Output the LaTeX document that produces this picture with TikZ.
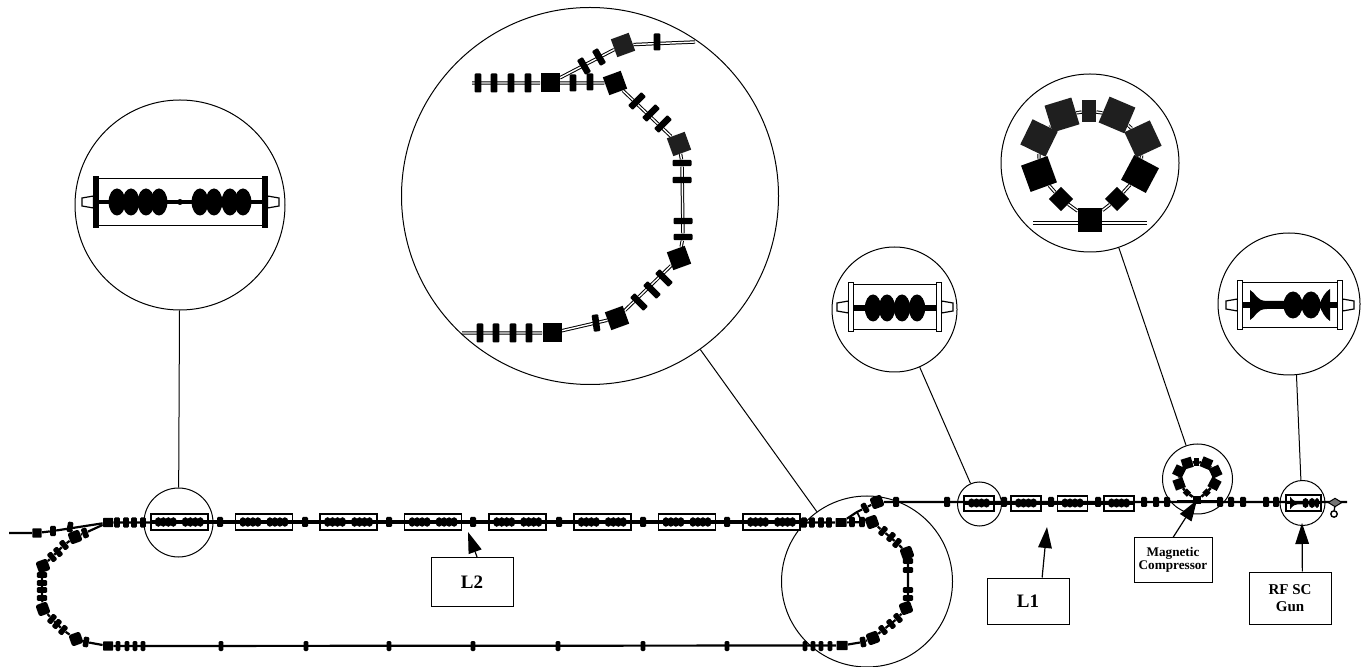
\documentclass[tikz,border=0pt]{standalone}
\usepackage{fontspec}
\setmainfont{Liberation Serif}
\usetikzlibrary{arrows.meta,shapes.geometric,backgrounds}
\tikzset{
  lens/.style={draw,circle,inner sep=0pt,line width=.5pt},
  lead/.style={line width=.5pt},
  beam/.style={line width=1.1pt},
  beamd/.style={draw,line width=.5pt,double=white,double distance=.7pt},
  magq/.style={fill=black,rectangle,rounded corners=.6pt,inner sep=0pt,minimum width=2.8pt,minimum height=5.2pt},
  magb/.style={fill=black,rectangle,rounded corners=1.2pt,inner sep=0pt,minimum size=6pt},
  zoomq/.style={fill=black,rectangle,rounded corners=.5pt,inner sep=0pt,minimum width=3.3pt,minimum height=9.5pt},
  zooms/.style={fill=black,rectangle,inner sep=0pt,minimum size=9.5pt},
  zoomd/.style={zooms,fill=black!88},
  modbox/.style={draw,rectangle,inner sep=0pt,line width=.8pt},
  labelbox/.style={draw,rectangle,inner sep=0pt,line width=.5pt,align=center,font=\bfseries},
  bigarrow/.style={line width=.6pt,-{Triangle[length=10.5pt,width=6.8pt]}},
}
% cryostat of an enlarged view: left, right, mid, half height, flange colour
\newcommand{\cryobox}[5]{%
  \draw[line width=.6pt] (#1,{#3-#4}) -- (#2,{#3-#4}) (#1,{#3+#4}) -- (#2,{#3+#4});
  \draw[fill=white,line width=.6pt] ({#1-2.5},{#3-6}) -- ({#1-14},{#3-4}) -- ({#1-14},{#3+4}) -- ({#1-2.5},{#3+6}) -- cycle;
  \draw[fill=white,line width=.6pt] ({#2+2.5},{#3-6}) -- ({#2+14},{#3-4}) -- ({#2+14},{#3+4}) -- ({#2+2.5},{#3+6}) -- cycle;
  \draw[fill=#5,line width=.6pt] ({#1-2.5},{#3-#4-2}) rectangle ({#1+2.5},{#3+#4+2});
  \draw[fill=#5,line width=.6pt] ({#2-2.5},{#3-#4-2}) rectangle ({#2+2.5},{#3+#4+2});
}
% cavities of a small module: centre x, y, half height of cells
\newcommand{\cellgroup}[3]{%
  \foreach \k in {-1.5,-.5,.5,1.5}
    \fill ({#1+\k*5},#2) ellipse [x radius=3.6,y radius=#3];
}
% the ring of dipoles, drawn large and small
\newcommand{\compring}[7]{%
  \begin{scope}[shift={(#2,#3)},scale=#4,transform shape]
    \node[fill=black,inner sep=0pt,minimum size=12pt] (#1b) at (0,0) {};
    \node[fill=black,inner sep=0pt,minimum size=8.5pt,rotate=45] (#1c) at (-29,-21) {};
    \node[fill=black,inner sep=0pt,minimum size=8.5pt,rotate=45] (#1d) at (27,-21) {};
    \node[fill=black,inner sep=0pt,minimum size=#7,rotate=20] (#1e) at (-51,-46) {};
    \node[fill=black,inner sep=0pt,minimum size=#7,rotate=-28] (#1f) at (50,-46) {};
    \node[fill=#6,inner sep=0pt,minimum size=#7,rotate=-26] (#1g) at (-51,-82) {};
    \node[fill=#6,inner sep=0pt,minimum size=#7,rotate=25] (#1h) at (53,-81) {};
    \node[fill=#6,inner sep=0pt,minimum size=#7,rotate=17] (#1i) at (-28,-105) {};
    \node[fill=#6,inner sep=0pt,minimum size=#7,rotate=-23] (#1j) at (27,-105) {};
    \node[fill=#6,inner sep=0pt,minimum width=7pt,minimum height=11pt] (#1k) at (-1,-109) {};
    \coordinate (#1l) at (-57,3);
    \coordinate (#1r) at (57,3);
    \begin{scope}[on background layer]
      \draw[#5] (#1b) -- (#1c) -- (#1e) -- (#1g) -- (#1i) -- (#1k) -- (#1j) -- (#1h) -- (#1f) -- (#1d) -- (#1b);
      \draw[#5] (#1l) -- (#1r);
    \end{scope}
  \end{scope}
}
\begin{document}
\begin{tikzpicture}[x=.5pt,y=-.5pt]
  \useasboundingbox (0,0) rectangle (1370,667);
  % enlarged views and the circles on the line
  \node[lens,minimum size=105pt] (zooma) at (180,205) {};
  \node[lens,minimum size=188.5pt] (zoomf) at (590,196) {};
  \node[lens,minimum size=62.5pt] (zoomb) at (894.5,309.5) {};
  \node[lens,minimum size=89pt] (zoomc) at (1090,163) {};
  \node[lens,minimum size=71pt] (zoomg) at (1289,304) {};
  \node[lens,minimum size=34.5pt] (lensa) at (178.5,522.5) {};
  \node[lens,minimum size=85.5pt] (lensf) at (867,581.5) {};
  \node[lens,minimum size=22pt] (lensb) at (979.5,504) {};
  \node[lens,minimum size=35pt] (lensc) at (1197.5,479) {};
  \node[lens,minimum size=22.5pt] (lensg) at (1302.5,503) {};
  \draw[lead] (zooma) -- (lensa);
  \draw[lead] (zoomf) -- (lensf);
  \draw[lead] (zoomb) -- (lensb);
  \draw[lead] (zoomc) -- (lensc);
  \draw[lead] (zoomg.-84) -- (lensg.94);

  % line, upper straight
  \node[magb,minimum size=4.6pt,rounded corners=.3pt] (s0) at (37,533) {};
  \node[magq] (ql0) at (53,531) {};
  \node[magb,minimum width=5pt,minimum height=4.6pt,rounded corners=.3pt] (j1) at (108,522.5) {};
  \node[magb,minimum width=5.5pt,minimum height=4.4pt,rounded corners=.3pt] (j2) at (841,522.5) {};
  \coordinate (start) at (9,533);
  \foreach \x in {117,126,134,143,804,812,821,829}
    \node[magq] at (\x,522.5) {};
  \foreach \i in {0,...,7} {
    \node[modbox,minimum width=28.5pt,minimum height=8pt] (m\i) at ({179.3+84.6*\i},522) {};
    \cellgroup{179.3+84.6*\i-13.5}{522}{4.8}
    \cellgroup{179.3+84.6*\i+13.5}{522}{4.8}
  }
  \foreach \x in {220,305,389,473,559,643,727}
    \node[magq,minimum width=3pt,minimum height=5pt] at (\x,522) {};
  % line, lower straight
  \node[magb,minimum width=5pt,minimum height=4.6pt,rounded corners=.3pt] (j3) at (108,646) {};
  \node[magb,minimum width=5.5pt,minimum height=4.6pt,rounded corners=.3pt] (j4) at (842,645.5) {};
  \foreach \x in {118,127,135,143,221,306,389,473,558,643,727,805,813,821,830}
    \node[magq,minimum width=2.4pt,minimum height=5pt] at (\x,646) {};

  % left arc
  \foreach \n/\x/\y/\r in {lq1/85/533/20,lq0/70/527/-10,lx1/64/545/40,lx2/58/552/40,lx3/52/557/40,
      lv1/42/575/90,lv2/42/583/90,lv3/42/590/90,lv4/42/598/90,
      lx4/52/619/-40,lx5/57/624/-40,lx6/63/630/-40,lq2/86/642/-10}
    \node[magq,rotate=\r] (\n) at (\x,\y) {};
  \foreach \n/\x/\y in {lb1/75/537,lb2/43/566,lb3/43/609,lb4/76/639}
    \node[magb,rotate=20] (\n) at (\x,\y) {};
  % right arc
  \foreach \n/\x/\y/\r in {rp1/852/522/0,rp2/862/522/0,rp3/865/508/30,
      rx1/883/531/-40,rx2/891/537/-40,rx3/897/543/-40,
      rv1/908/561/90,rv2/908/570/90,rv3/908/590/90,rv4/908/598/90,
      rx4/898/618/40,rx5/891/624/40,rx6/883/630/40,rq2/863/642/10}
    \node[magq,rotate=\r] (\n) at (\x,\y) {};
  \foreach \n/\x/\y in {rb1/872/522,rb2/907/553,rb3/906/608,rb4/873/638,tb/877/502}
    \node[magb,rotate=20] (\n) at (\x,\y) {};
  \coordinate (rt) at (857,512);
  \coordinate (rs) at (862,522);
  \coordinate (lt) at (70,527);

  % upper line after the arc
  \coordinate (lineend) at (1347,502);
  \foreach \x in {896,947,1004,1051,1098,1144,1156,1167,1220,1231,1243,1266,1276}
    \node[magq,minimum width=3pt,minimum height=5pt] at (\x,502) {};
  \foreach \x [count=\i] in {979,1026,1072.5,1119} {
    \node[modbox,minimum width=15pt,minimum height=7.5pt] (n\i) at (\x,503.5) {};
    \cellgroup{\x}{503}{4.6}
  }
  \node[modbox,minimum width=17.5pt,minimum height=8pt] (gunmod) at (1303.5,503) {};
  \fill (1290,496.5) .. controls (1292,499) and (1293,501) .. (1297,501.5) -- (1302,501.5) -- (1302,504.5) -- (1297,504.5) .. controls (1293,505) and (1292,507) .. (1290,509.5) -- cycle;
  \fill (1305.5,503) ellipse [x radius=3.4,y radius=5];
  \fill (1312,503) ellipse [x radius=3.4,y radius=5];
  \fill (1317,503) ellipse [x radius=2.4,y radius=5];
  \node[diamond,draw,fill=black!55,inner sep=0pt,minimum width=7pt,minimum height=4.4pt,line width=.5pt] (cath) at (1335,502.5) {};
  \node[draw,circle,inner sep=0pt,minimum size=3.2pt,line width=.7pt] (cring) at (1334,514) {};
  \compring{m}{1197}{500}{.35}{line width=1.3pt}{black}{15pt}
  \begin{scope}[on background layer]
    \draw[beam] (start) -- (s0) -- (ql0) -- (j1) -- (j2);
    \draw[beam] (j2) -- (rt) -- (rp3) -- (tb) -- (lineend);
    \draw[beam] (j2) -- (rb1) -- (rx1) -- (rx3) -- (rb2) -- (rv1) -- (rv4) -- (rb3) -- (rx4) -- (rx6) -- (rb4) -- (rq2) -- (j4) -- (j3);
    \draw[beam] (j3) -- (lq2) -- (lb4) -- (lx6) -- (lx4) -- (lb3) -- (lv4) -- (lv1) -- (lb2) -- (lx3) -- (lx1) -- (lb1) -- (lq1) -- (j1);
    \draw[line width=.8pt] (lt) -- (lb1);
    \draw[line width=.8pt] (rt) -- (rs);
    \draw[line width=1.6pt] (m0.west) -- (m7.east);
    \draw[line width=1.6pt] (n1.west) -- (n4.east);
    \draw[line width=1.4pt] (gunmod.west) -- (gunmod.east);
    \draw[line width=.7pt] (cath) -- (cring);
  \end{scope}

  % enlarged arc
  \node[zooms] (f1) at (550,83) {};
  \node[zoomd,rotate=20] (f2) at (623,45) {};
  \node[zooms,rotate=20] (f3) at (615,83) {};
  \node[zoomd,rotate=20] (f4) at (679,144) {};
  \node[zooms,rotate=20] (f5) at (679,258) {};
  \node[zooms,rotate=20] (f6) at (617,318) {};
  \node[zooms] (f7) at (552,333) {};
  \coordinate (fa) at (472,83);
  \coordinate (fb) at (695,42);
  \coordinate (fc) at (462,333);
  \foreach \x in {478,494,511,528}
    \node[zoomq] at (\x,83) {};
  \foreach \x in {480,496,513,529}
    \node[zoomq] at (\x,333) {};
  \foreach \n/\x/\y/\r in {fq1/584/66/30,fq2/599/57/30,fq3/573/83/0,fq4/590/82/0,fq5/657/42/0,fq6/596/323/8}
    \node[zoomq,minimum height=8.5pt,rotate=\r] (\n) at (\x,\y) {};
  \foreach \n/\x/\y/\r in {fx1/637/101/-45,fx2/651/113/-45,fx3/663/124/-45,fx4/664/278/45,fx5/652/290/45,fx6/639/302/45,
      fv1/682/163/90,fv2/682/180/90,fv3/683/221/90,fv4/683/237/90}
    \node[zoomq,minimum width=3.2pt,rotate=\r] (\n) at (\x,\y) {};
  \begin{scope}[on background layer]
    \draw[beamd] (fa) -- (f1) -- (f2) -- (fb);
    \draw[beamd] (f1) -- (f3) -- (f4) -- (fv1) -- (fv4) -- (f5) -- (f6) -- (f7) -- (fc);
  \end{scope}

  % enlarged compressor
  \compring{c}{1090}{220}{1}{beamd}{black!88}{14pt}

  % enlarged module, two groups
  \cryobox{96}{265}{202}{23.5}{black}
  \draw[line width=2.2pt] (98,202) -- (263,202);
  \foreach \x in {117,131,146,159,200,214,230,243}
    \fill (\x,202) ellipse [x radius=8.4,y radius=13.5];
  \fill (180,202) circle [radius=3];

  % enlarged module, one group
  \cryobox{851}{939}{307}{22.5}{white}
  \draw[line width=2.6pt] (853.5,308) -- (936.5,308);
  \foreach \x in {873,887,902,917}
    \fill (\x,308) ellipse [x radius=8.2,y radius=13.5];

  % enlarged gun
  \cryobox{1240}{1340}{305}{22.5}{white}
  \draw[line width=2.6pt] (1242.5,305) -- (1337.5,305);
  \fill (1250,290) .. controls (1256,293) and (1256,301) .. (1267,301) -- (1285,301) -- (1285,309) -- (1267,309) .. controls (1256,309) and (1256,317) .. (1250,320) -- cycle;
  \fill (1293,305) ellipse [x radius=9.5,y radius=13.5];
  \fill (1311,305) ellipse [x radius=9.5,y radius=13.5];
  \fill (1330,289) .. controls (1325,292) and (1322,298) .. (1319,305) .. controls (1322,312) and (1325,318) .. (1330,321) -- cycle;

  % labels
  \node[labelbox,minimum width=41pt,minimum height=24pt,font=\bfseries\fontsize{9.5}{11}\selectfont] (l2) at (472,582) {L2};
  \node[labelbox,minimum width=41pt,minimum height=23pt,font=\bfseries\fontsize{9.5}{11}\selectfont] (l1) at (1028,601) {L1};
  \node[labelbox,minimum width=39pt,minimum height=22pt,font=\bfseries\fontsize{6.6}{6.8}\selectfont] (mcbox) at (1173,560) {Magnetic\\Compressor};
  \node[labelbox,minimum width=41pt,minimum height=26pt,font=\bfseries\fontsize{7.5}{8.5}\selectfont] (rfbox) at (1290,598) {RF SC\\Gun};
  \coordinate (l2tip) at (468,532);
  \coordinate (l1tip) at (1047,527);
  \coordinate (mctip) at (1197,500);
  \coordinate (rftip) at (1302,523);
  \draw[bigarrow] (l2.78) -- (l2tip);
  \draw[bigarrow] (l1.59) -- (l1tip);
  \draw[bigarrow] (mcbox.north) -- (mctip);
  \draw[bigarrow] (rfbox.65) -- (rftip);
\end{tikzpicture}
\end{document}
